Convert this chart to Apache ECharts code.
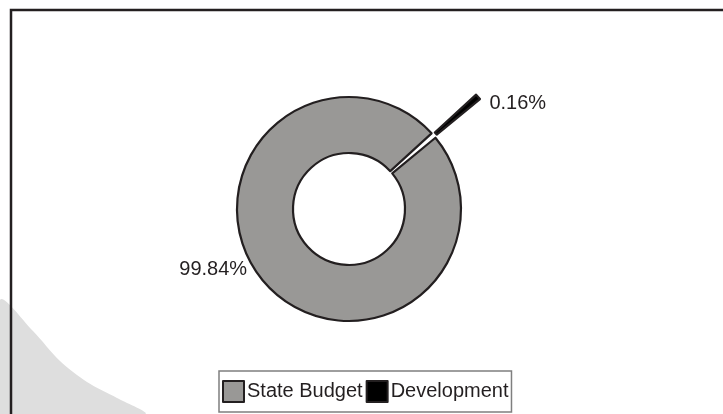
<!DOCTYPE html>
<html>
<head>
<meta charset="utf-8">
<script src="https://cdn.jsdelivr.net/npm/echarts@6/dist/echarts.min.js"></script>
<style>
  html, body { margin: 0; padding: 0; background: #fff; }
  #chart { width: 723px; height: 414px; }
</style>
</head>
<body>
<div id="chart"></div>
<script>
const categories = ["Development", "State Budget"];
const shares = [0.16, 99.84];
const sliceColors = ["#000000", "#999896"];
const shareLabels = ["0.16%", "99.84%"];

const chart = echarts.init(document.getElementById("chart"));

// small nudges for the outside labels, by data index
const labelNudge = [
  { dx: -35, dy: 17 },
  { dx: 29, dy: -23 },
];

const pieData = categories.map((name, i) => ({
  name: name,
  value: shares[i],
  selected: i === 0,
  itemStyle: { color: sliceColors[i] },
}));

const option = {
  animation: false,
  graphic: [
    {
      type: "polygon",
      z: 0,
      shape: {
        points: [[0, 300], [33, 331], [60, 361], [87, 382], [117, 398], [145, 414], [0, 414]],
        smooth: 0.3,
      },
      style: { fill: "#dedede" },
    },
    {
      type: "polyline",
      z: 1,
      shape: { points: [[11, 414], [11, 10], [723, 10]] },
      style: { stroke: "#231f20", lineWidth: 2.5, fill: null },
    },
  ],
  legend: {
    data: ["State Budget", "Development"],
    left: 219,
    top: 371,
    orient: "horizontal",
    itemWidth: 21,
    itemHeight: 21,
    itemGap: 3,
    padding: [9, 3],
    borderColor: "#7f7f7f",
    borderWidth: 1.5,
    icon: "rect",
    selectedMode: false,
    textStyle: {
      fontFamily: "Liberation Sans, Arial, sans-serif",
      fontSize: 20,
      color: "#231f20",
      padding: [0, 0, 0, -2],
    },
  },
  series: [
    {
      type: "pie",
      center: [349, 209],
      radius: [56, 112],
      startAngle: 42.5,
      clockwise: true,
      minAngle: 3,
      selectedMode: "single",
      selectedOffset: 59,
      avoidLabelOverlap: false,
      silent: true,
      itemStyle: {
        borderColor: "#231f20",
        borderWidth: 2.2,
      },
      label: {
        show: true,
        position: "outside",
        formatter: (p) => shareLabels[p.dataIndex],
        fontFamily: "Liberation Sans, Arial, sans-serif",
        fontSize: 20,
        color: "#231f20",
      },
      labelLine: { show: false },
      labelLayout: (params) => labelNudge[params.dataIndex],
      emphasis: { disabled: true },
      data: pieData,
    },
  ],
};

chart.setOption(option);
</script>
</body>
</html>
